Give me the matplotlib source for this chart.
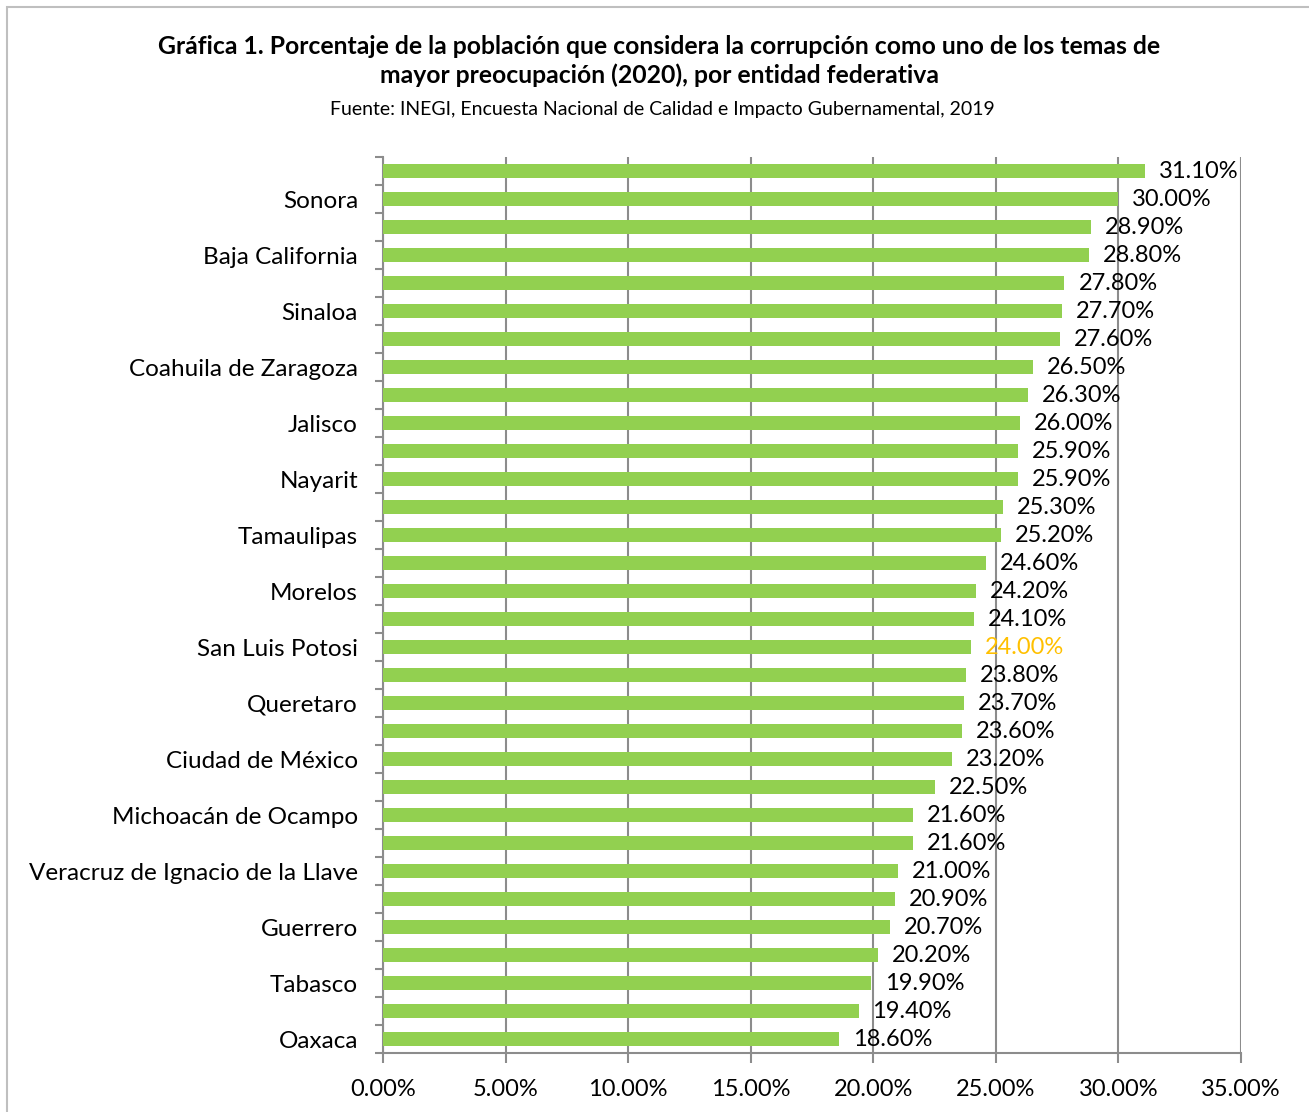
import numpy as np
import matplotlib
matplotlib.use("Agg")
import matplotlib.pyplot as plt
from matplotlib.patches import Rectangle
from matplotlib.ticker import MultipleLocator, FuncFormatter

# values, top to bottom
valores = [31.1, 30.0, 28.9, 28.8, 27.8, 27.7, 27.6, 26.5, 26.3, 26.0, 25.9, 25.9,
           25.3, 25.2, 24.6, 24.2, 24.1, 24.0, 23.8, 23.7, 23.6, 23.2, 22.5, 21.6,
           21.6, 21.0, 20.9, 20.7, 20.2, 19.9, 19.4, 18.6]
# only every second category name is shown in the reference
entidades = ["", "Sonora", "", "Baja California", "", "Sinaloa", "",
             "Coahuila de Zaragoza", "", "Jalisco", "", "Nayarit", "", "Tamaulipas",
             "", "Morelos", "", "San Luis Potosi", "", "Queretaro", "",
             "Ciudad de México", "", "Michoacán de Ocampo", "",
             "Veracruz de Ignacio de la Llave", "", "Guerrero", "", "Tabasco", "",
             "Oaxaca"]
resaltado = "San Luis Potosi"

titulo = ("Gráfica 1. Porcentaje de la población que considera la corrupción como uno de los temas de\n"
          "mayor preocupación (2020), por entidad federativa")
fuente = "Fuente: INEGI, Encuesta Nacional de Calidad e Impacto Gubernamental, 2019"

plt.rcParams['font.family'] = ['Lato', 'DejaVu Sans']

verde = "#92D050"
gris = "#8C8C8C"

fig = plt.figure(figsize=(13.09, 11.12), dpi=100)
fig.patches.append(Rectangle((7/1309, -0.1), 1.2, 1 - 7/1112 + 0.1, transform=fig.transFigure,
                             fill=False, edgecolor="#BFBFBF", linewidth=1.5))

ax = fig.add_axes([383/1309, 1 - 1053/1112, 858/1309, 896/1112])

y = np.arange(len(valores))
ax.barh(y, valores, height=0.5, color=verde, zorder=3)

ax.set_xlim(0, 35)
ax.set_ylim(len(valores) - 0.5, -0.5)

ax.xaxis.set_major_locator(MultipleLocator(5))
ax.xaxis.set_major_formatter(FuncFormatter(lambda v, p: f"{v:.2f}%"))
ax.grid(axis="x", color=gris, linewidth=1.5, zorder=0)

ax.set_yticks(y)
ax.set_yticklabels(entidades)
ax.set_yticks(np.arange(len(valores) + 1) - 0.5, minor=True)
ax.tick_params(axis="y", which="major", length=0, pad=18, labelsize=17.5)
ax.tick_params(axis="y", which="minor", length=6, width=1.5, color=gris)
ax.tick_params(axis="x", length=7, width=1.5, color=gris, pad=12, labelsize=17)

for s in ["top", "right"]:
    ax.spines[s].set_visible(False)
for s in ["left", "bottom"]:
    ax.spines[s].set_color(gris)
    ax.spines[s].set_linewidth(1.5)

for yi, v, nombre in zip(y, valores, entidades):
    c = "#FFC000" if nombre == resaltado else "black"
    ax.annotate(f"{v:.2f}%", (v, yi), xytext=(10, 0), textcoords="offset points",
                va="center", ha="left", fontsize=17, color=c, zorder=4)

fig.text(659/1309, 1 - 61/1112, titulo, ha="center", va="center", fontsize=17.8,
         fontweight="bold", linespacing=1.3, transform=fig.transFigure)
fig.text(662/1309, 1 - 110/1112, fuente, ha="center", va="center", fontsize=14)

fig.savefig("out.png", dpi=100)
